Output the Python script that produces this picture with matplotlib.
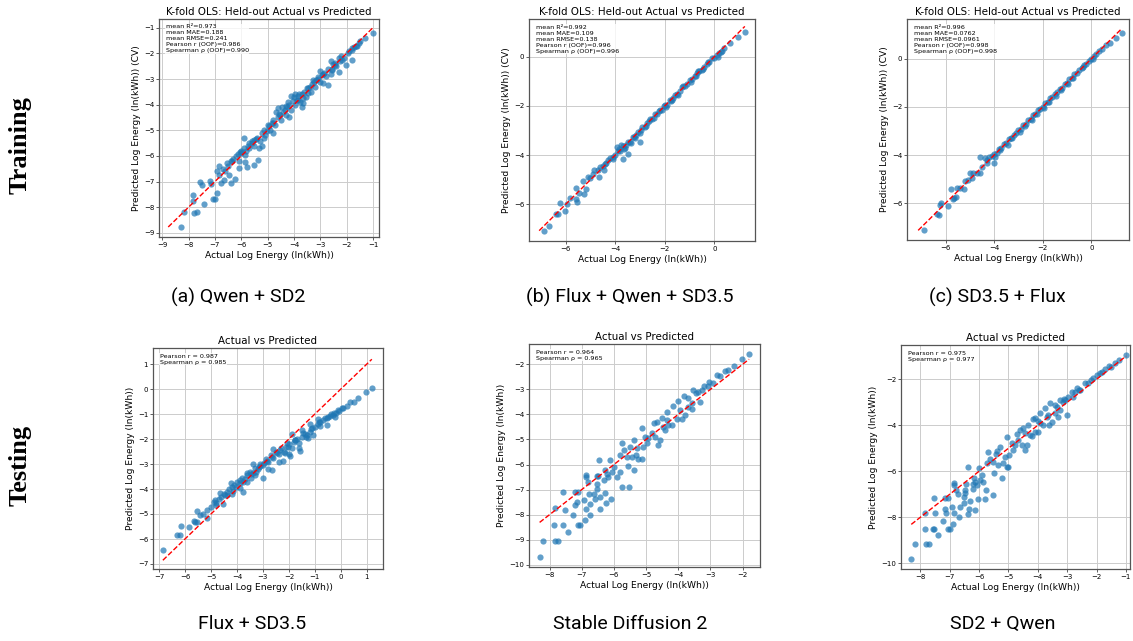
import numpy as np
import matplotlib
matplotlib.use("Agg")
import matplotlib.pyplot as plt

# ---- data (actual, predicted) ----
# (a) Qwen + SD2, training (k-fold held-out)
a_act = [-8.30, -8.19, -7.83, -7.83, -7.78, -7.69, -7.43, -7.55, -7.50, -7.19, -7.14, -7.08, -7.00,
         -6.86, -6.84, -6.90, -6.78, -6.66, -6.53, -6.46, -6.40, -6.22, -6.08, -6.14, -6.02, -5.86,
         -5.79, -5.84, -5.70, -5.50, -5.53, -5.38, -5.34, -5.12, -5.02, -4.93, -4.80, -4.67, -4.61,
         -4.51, -4.35, -4.22, -4.12, -3.97, -3.84, -3.65, -3.52, -3.46, -3.26, -3.07, -2.94, -2.88,
         -2.69, -2.56, -2.30, -2.43, -2.18, -2.02, -1.79, -1.79, -1.53, -1.30, -1.00,
         -6.9, -6.7, -6.6, -6.5, -6.4, -6.3, -6.2, -6.1, -6.0, -5.9, -5.8, -5.7, -5.6, -5.5, -5.4,
         -5.3, -5.2, -5.1, -5.0, -4.9, -4.8, -4.7, -4.6, -4.5, -4.4, -4.3, -4.2, -4.1, -4.0, -3.95,
         -3.9, -3.8, -3.75, -3.7, -3.6, -3.55, -3.4, -3.35, -3.3, -3.2, -3.1, -3.0, -2.9, -2.8, -2.7,
         -2.6, -2.5, -2.4, -2.3, -2.2, -2.1, -1.9, -1.8, -1.7, -1.6, -1.5, -5.9, -5.6, -4.45, -4.3,
         -3.0, -2.6, -3.7, -4.2, -4.8, -5.2,
         -6.35, -6.05, -5.75, -5.45, -5.15, -4.85, -4.55, -4.25, -3.85, -3.65, -3.45, -3.15, -2.85,
         -2.55, -2.25, -1.95, -1.65, -4.05, -3.25, -2.45]
a_pred = [-8.77, -8.19, -7.54, -7.74, -8.22, -8.17, -7.86, -7.02, -7.15, -6.99, -7.10, -7.67, -7.68,
          -6.41, -6.73, -7.45, -7.06, -6.93, -6.28, -6.76, -7.06, -6.89, -6.47, -5.93, -5.82, -5.95,
          -6.45, -6.24, -5.50, -5.37, -6.34, -6.15, -5.70, -5.31, -5.02, -4.85, -4.59, -4.27, -4.14,
          -4.40, -4.20, -3.88, -3.68, -3.59, -3.81, -3.94, -3.36, -3.56, -3.04, -2.91, -2.84, -3.14,
          -3.23, -2.65, -2.71, -2.39, -2.26, -2.45, -2.26, -1.87, -1.61, -1.42, -1.22,
          -6.6, -6.5, -6.6, -6.4, -6.2, -6.1, -6.0, -6.2, -5.9, -5.7, -5.8, -5.7, -5.5, -5.6, -5.3,
          -5.4, -5.1, -5.2, -4.8, -5.0, -4.7, -4.8, -4.5, -4.6, -4.3, -4.4, -4.0, -4.2, -3.7, -4.0,
          -3.8, -3.6, -3.9, -3.6, -3.5, -3.7, -3.3, -3.5, -3.2, -3.3, -3.0, -3.1, -2.8, -2.9, -2.6,
          -2.8, -2.4, -2.5, -2.2, -2.1, -2.2, -1.9, -1.8, -1.75, -1.7, -1.5, -5.3, -5.4, -4.1, -4.05,
          -2.7, -2.3, -4.1, -4.5, -5.1, -5.6,
          -6.2, -5.85, -5.6, -5.35, -5.0, -4.7, -4.35, -4.1, -3.65, -3.75, -3.35, -3.05, -2.75,
          -2.6, -2.3, -2.0, -1.7, -3.85, -3.1, -2.45]

# (b) Flux + Qwen + SD3.5, training
b_act = [-6.89, -6.68, -6.39, -6.23, -6.31, -6.01, -5.93, -5.82, -5.58, -5.55, -5.47, -5.58, -5.28,
         -5.20, -5.01, -4.84, -4.64, -4.47, -4.37, -4.10, -3.69, -3.49, -3.94, -3.02,
         -4.0, -3.9, -3.8, -3.7, -3.6, -3.5, -3.4, -3.3, -3.2, -3.1, -3.0, -2.9, -2.8, -2.7, -2.6,
         -2.5, -2.4, -2.3, -2.2, -2.1, -2.0, -1.9, -1.8, -1.7, -1.6, -1.5, -1.4, -1.3, -1.2, -1.1,
         -1.0, -0.9, -0.8, -0.7, -0.6, -0.5, -0.4, -0.3, -0.2, -0.1, 0.0, 0.1, 0.2, 0.3, 0.4,
         -4.3, -4.5, -4.7, -4.2, -3.75, -3.35, -2.95, -2.45, -1.95, -1.45, -0.95, -0.45, 0.15,
         -3.15, -2.05, 0.62, 0.96, 1.23,
         -4.6, -4.4, -4.1, -3.85, -3.55, -3.25, -2.75, -2.25, -1.75, -1.25, -0.75, -0.25, 0.25,
         -5.1, -4.9, -5.3, -3.65, -2.65, -1.65, -0.65]
b_pred = [-7.07, -6.89, -6.38, -5.94, -6.39, -6.27, -6.00, -5.73, -5.77, -5.92, -5.56, -5.32, -5.59,
          -5.36, -4.93, -4.61, -4.88, -4.61, -4.34, -4.07, -4.14, -3.96, -3.69, -3.46,
          -4.0, -3.85, -3.85, -3.65, -3.7, -3.45, -3.45, -3.25, -3.3, -3.05, -3.1, -2.85, -2.85, -2.7,
          -2.55, -2.55, -2.35, -2.35, -2.15, -2.15, -1.95, -1.95, -1.75, -1.75, -1.55, -1.5, -1.4,
          -1.25, -1.2, -1.1, -0.95, -0.9, -0.8, -0.65, -0.6, -0.55, -0.4, -0.3, -0.2, -0.05, -0.05,
          0.05, 0.15, 0.25, 0.35, -4.2, -4.45, -4.6, -4.1, -3.6, -3.5, -3.0, -2.5, -2.05, -1.55,
          -1.05, -0.5, 0.0, -3.2, -2.0, 0.54, 0.79, 0.99,
          -4.5, -4.35, -4.15, -3.75, -3.6, -3.25, -2.8, -2.2, -1.8, -1.2, -0.8, -0.2, 0.2,
          -4.9, -4.75, -5.05, -3.75, -2.6, -1.7, -0.6]

# (c) SD3.5 + Flux, training
c_act = [-6.87, -6.23, -6.28, -6.34, -6.19, -5.89, -5.68, -5.57, -5.54, -5.78, -5.24, -5.06, -4.99,
         -4.86, -4.58, -4.58, -4.37, -4.30, -3.99,
         -4.1, -4.0, -3.9, -3.8, -3.7, -3.6, -3.5, -3.4, -3.3, -3.2, -3.1, -3.0, -2.9, -2.8, -2.7,
         -2.6, -2.5, -2.4, -2.3, -2.2, -2.1, -2.0, -1.9, -1.8, -1.7, -1.6, -1.5, -1.4, -1.3, -1.2,
         -1.1, -1.0, -0.9, -0.8, -0.7, -0.6, -0.5, -0.4, -0.3, -0.2, -0.1, 0.0, 0.1, 0.2, 0.3,
         0.45, 0.6, 0.75, 1.0, 1.25, -4.3, -4.5, -3.95, -3.45, -2.95, -2.45, -1.95, -1.45, -0.95,
         -4.2, -3.75, -3.25, -2.75, -2.25, -1.75, -1.25, -0.75, -0.35, 0.05, -4.7, -4.9, -5.2,
         -5.4, -5.65]
c_pred = [-7.13, -6.08, -6.50, -6.43, -5.98, -6.11, -5.82, -5.73, -5.39, -5.40, -5.43, -5.04, -4.76,
          -4.74, -4.76, -4.07, -4.13, -4.35, -4.35,
          -4.05, -3.95, -3.9, -3.75, -3.7, -3.55, -3.5, -3.35, -3.3, -3.15, -3.1, -2.95, -2.9, -2.75,
          -2.7, -2.55, -2.5, -2.35, -2.3, -2.15, -2.1, -2.0, -1.85, -1.8, -1.65, -1.6, -1.45, -1.4,
          -1.25, -1.2, -1.05, -1.0, -0.85, -0.8, -0.65, -0.6, -0.45, -0.4, -0.25, -0.2, -0.1, 0.0,
          0.1, 0.2, 0.3, 0.4, 0.55, 0.65, 0.88, 1.08, -4.2, -4.5, -4.1, -3.6, -3.05, -2.55, -2.05,
          -1.55, -1.05,
          -4.1, -3.8, -3.3, -2.8, -2.3, -1.8, -1.3, -0.8, -0.35, 0.0, -4.75, -4.95, -5.1,
          -5.35, -5.8]

# Flux + SD3.5, testing
d_act = [-6.85, -6.16, -6.29, -6.20, -5.84, -5.66, -5.53, -5.43, -5.15, -5.17, -5.53, -4.85, -4.79,
         -4.53, -4.40, -4.66, -4.14, -4.21, -3.89, -3.78, -3.63, -3.44, -3.12, -2.99, -2.86, -2.67,
         -2.47, -2.22, -2.09, -1.96, -1.77, -1.57, -1.51, -1.25, -1.06, -0.88, -0.80, -0.54, -0.41,
         -0.22, -0.09, 0.04, 0.23, 0.36, 0.49, 0.64, 0.97, 1.19,
         -5.0, -4.9, -4.8, -4.7, -4.6, -4.5, -4.4, -4.3, -4.2, -4.1, -4.0, -3.9, -3.8, -3.7, -3.6,
         -3.5, -3.4, -3.3, -3.2, -3.1, -3.0, -2.9, -2.8, -2.7, -2.6, -2.5, -2.4, -2.3, -2.2, -2.1,
         -2.0, -1.9, -1.8, -1.7, -1.6, -1.5, -1.4, -1.3, -1.2, -1.1, -1.0, -0.9, -0.8, -0.7, -0.6,
         -0.5, -0.4, -0.3, -0.2, -0.1, 0.1, -4.2, -3.9, -3.6, -3.3, -2.8, -2.4, -2.0, -1.6, -3.4,
         -2.6, -1.9, -1.2,
         -4.45, -4.05, -3.75, -3.45, -3.15, -2.95, -2.65, -2.35, -2.05, -1.75, -1.45, -1.15, -0.85,
         -0.55, -0.25, -5.3, -5.6, -3.25, -2.15, -1.35]
d_pred = [-6.43, -5.47, -5.85, -5.85, -5.53, -5.29, -5.32, -5.03, -5.16, -4.83, -4.89, -4.43, -4.63,
          -4.59, -4.23, -4.16, -4.09, -3.76, -3.63, -4.12, -3.36, -3.56, -3.09, -3.56, -2.89, -3.23,
          -2.56, -2.89, -2.16, -2.67, -2.03, -2.49, -1.63, -1.96, -1.83, -1.20, -1.49, -1.43, -1.09,
          -1.12, -0.89, -0.76, -0.67, -0.53, -0.53, -0.36, -0.13, 0.03,
          -4.7, -4.5, -4.55, -4.4, -4.3, -4.2, -4.1, -4.0, -3.9, -3.85, -3.7, -3.75, -3.55, -3.6,
          -3.45, -3.3, -3.35, -3.15, -3.2, -3.0, -3.05, -2.8, -2.9, -2.65, -2.75, -2.5, -2.6, -2.35,
          -2.5, -2.3, -2.2, -2.35, -2.1, -2.0, -2.15, -1.9, -1.8, -1.85, -1.7, -1.55, -1.5, -1.4,
          -1.3, -1.25, -1.15, -1.1, -1.0, -1.05, -0.95, -0.85, -0.75, -4.2, -3.95, -3.7, -3.45,
          -3.2, -2.9, -2.6, -2.35, -3.0, -2.4, -1.8, -1.4,
          -4.25, -3.9, -3.7, -3.4, -3.1, -2.95, -2.7, -2.45, -2.3, -2.05, -1.75, -1.6, -1.3,
          -1.15, -0.95, -5.0, -5.3, -3.3, -2.55, -1.9]

# Stable Diffusion 2, testing
e_act = [-8.31, -8.19, -7.82, -7.74, -7.86, -7.59, -7.43, -7.82, -7.51, -7.57, -7.26, -7.22, -7.15,
         -7.12, -7.05, -7.20, -7.12, -6.88, -6.88, -6.92, -6.89, -6.86, -6.82, -6.79, -6.74, -6.74,
         -6.63, -6.53, -6.53, -6.58, -6.53, -6.48, -6.46, -6.43, -6.43, -6.30, -6.27, -6.27, -6.24,
         -6.22, -6.17, -6.12, -6.07, -6.10, -6.01, -5.91, -5.81, -5.75, -5.81, -5.76, -5.70, -5.60,
         -5.55, -5.53, -5.50, -5.45, -5.39, -5.37, -5.31, -5.29, -5.24, -5.14, -5.10, -5.14, -5.03,
         -4.98, -4.93, -4.83, -4.77, -4.72, -4.67, -4.62, -4.57, -4.51, -4.48, -4.41, -4.36, -4.31,
         -4.20, -4.15, -4.05, -4.00, -3.95, -3.89, -3.79, -3.82, -3.69, -3.58, -3.69, -3.53, -3.45,
         -3.38, -3.33, -3.27, -3.20, -3.07, -3.04, -2.91, -2.79, -2.71, -2.55, -2.45, -2.27, -2.03,
         -1.80, -3.58, -4.36]
e_pred = [-9.69, -9.05, -9.05, -9.05, -8.43, -8.40, -8.68, -7.73, -7.80, -7.09, -8.03, -7.63, -7.49,
          -8.43, -8.43, -7.09, -7.09, -6.43, -6.49, -7.40, -8.20, -7.76, -6.69, -7.16, -7.56, -8.03,
          -7.16, -6.96, -6.76, -7.36, -6.45, -6.45, -5.83, -7.77, -7.29, -6.63, -7.13, -6.20, -7.52,
          -6.36, -6.49, -5.80, -6.29, -7.36, -6.09, -6.49, -6.29, -6.89, -5.63, -5.16, -5.43, -5.69,
          -6.07, -6.89, -5.29, -5.69, -5.03, -6.23, -5.63, -5.36, -5.76, -5.76, -5.29, -4.53, -4.89,
          -5.16, -4.96, -4.76, -4.36, -4.89, -4.29, -5.23, -5.03, -4.16, -4.52, -4.63, -3.89, -4.43,
          -4.43, -3.67, -4.20, -3.47, -3.83, -4.20, -4.03, -3.25, -3.36, -3.80, -3.69, -3.03, -3.16,
          -3.09, -3.49, -3.03, -2.87, -2.87, -2.69, -2.76, -2.43, -2.47, -2.25, -2.23, -2.07, -1.80,
          -1.60, -3.56, -4.23]

# SD2 + Qwen, testing
f_act = [-8.31, -8.17, -7.80, -7.72, -7.83, -7.57, -7.40, -7.52, -7.83, -7.52, -7.49, -7.23, -7.17,
         -7.12, -7.07, -7.00, -7.17, -7.07, -6.87, -6.87, -6.91, -6.89, -6.84, -6.79, -6.73, -6.64,
         -6.70, -6.53, -6.47, -6.47, -6.53, -6.44, -6.39, -6.36, -6.39, -6.30, -6.21, -6.19, -6.13,
         -6.21, -6.13, -6.07, -6.02, -5.96, -6.05, -5.90, -5.85, -5.76, -5.79, -5.74, -5.68, -5.62,
         -5.51, -5.49, -5.51, -5.42, -5.34, -5.28, -5.23, -5.17, -5.11, -5.06, -5.00, -4.98, -5.06,
         -4.89, -4.83, -4.77, -4.66, -4.60, -4.55, -4.49, -4.43, -4.38, -4.32, -4.26, -4.21, -4.15,
         -4.09, -3.98, -3.92, -3.83, -3.75, -3.70, -3.61, -3.53, -3.58, -3.41, -3.30, -3.41, -3.24,
         -3.15, -3.07, -3.02, -2.96, -2.85, -2.73, -2.68, -2.56, -2.39, -2.28, -2.11, -1.98, -1.88,
         -1.71, -1.57, -1.38, -1.23, -1.00, -3.24, -3.92, -2.79,
         -4.7, -4.45, -4.0, -3.65, -3.1, -2.6, -2.2, -1.8, -1.5, -5.4, -4.1, -3.35]
f_pred = [-9.81, -9.17, -9.17, -9.17, -8.50, -8.52, -8.78, -8.53, -7.83, -7.18, -7.83, -8.15, -7.66,
          -7.83, -8.52, -8.52, -7.18, -7.18, -6.53, -6.60, -7.54, -8.30, -7.83, -6.82, -7.01, -7.54,
          -7.98, -7.11, -6.93, -6.82, -7.37, -6.56, -5.83, -7.62, -7.86, -7.28, -6.75, -6.31, -7.69,
          -6.57, -6.46, -6.60, -5.88, -6.38, -7.22, -6.17, -6.46, -6.82, -7.22, -5.66, -5.15, -5.48,
          -5.58, -6.09, -7.04, -5.26, -5.73, -4.93, -6.31, -5.66, -5.37, -5.80, -5.80, -5.29, -4.50,
          -4.79, -5.08, -4.86, -4.64, -4.21, -4.86, -4.13, -5.08, -4.86, -3.99, -4.42, -4.47, -3.74,
          -4.28, -4.28, -3.48, -3.99, -3.26, -3.63, -3.99, -3.84, -3.05, -3.12, -3.63, -3.48, -2.90,
          -2.97, -2.90, -3.55, -2.75, -2.54, -2.54, -2.39, -2.46, -2.17, -2.17, -1.96, -1.81, -1.74,
          -1.56, -1.42, -1.30, -1.16, -0.96, -3.34, -3.92, -2.75,
          -4.4, -4.35, -3.8, -3.55, -2.85, -2.45, -2.05, -1.7, -1.45, -5.1, -3.7, -3.2]

top_title = "K-fold OLS: Held-out Actual vs Predicted"
bot_title = "Actual vs Predicted"
top_notes = [
    "mean R²=0.973\nmean MAE=0.188\nmean RMSE=0.241\nPearson r (OOF)=0.986\nSpearman ρ (OOF)=0.990",
    "mean R²=0.992\nmean MAE=0.109\nmean RMSE=0.138\nPearson r (OOF)=0.996\nSpearman ρ (OOF)=0.996",
    "mean R²=0.996\nmean MAE=0.0762\nmean RMSE=0.0961\nPearson r (OOF)=0.998\nSpearman ρ (OOF)=0.998",
]
bot_notes = [
    "Pearson r = 0.987\nSpearman ρ = 0.985",
    "Pearson r = 0.964\nSpearman ρ = 0.965",
    "Pearson r = 0.975\nSpearman ρ = 0.977",
]
captions_top = ["(a) Qwen + SD2", "(b) Flux + Qwen + SD3.5", "(c) SD3.5 + Flux"]
captions_bot = ["Flux + SD3.5", "Stable Diffusion 2", "SD2 + Qwen"]

W, H = 1133, 641
fig = plt.figure(figsize=(W / 100, H / 100), dpi=100)


def box(x0, y0, x1, y1):
    # pixel box -> figure fraction
    return [x0 / W, 1 - y1 / H, (x1 - x0) / W, (y1 - y0) / H]


def panel(rect, act, pred, title, note, ylabel, xlim, ylim, xticks, yticks):
    ax = fig.add_axes(rect)
    act = np.array(act)
    pred = np.array(pred)
    ax.scatter(act, pred, s=20, color="#1f77b4", alpha=0.7, linewidths=0, zorder=3)
    lo, hi = min(act.min(), pred.min()), max(act.max(), pred.max())
    if ylabel.endswith("(CV)"):
        ax.plot([lo, hi], [lo, hi], "r--", lw=1.0, zorder=4)
    else:
        ax.plot([act.min(), act.max()], [act.min(), act.max()], "r--", lw=1.0, zorder=4)
    ax.set_xlim(xlim)
    ax.set_ylim(ylim)
    ax.set_xticks(xticks)
    ax.set_yticks(yticks)
    ax.grid(True, color="#cccccc", lw=0.7, zorder=0)
    ax.set_axisbelow(True)
    ax.tick_params(labelsize=5, length=2, width=0.6, pad=1.5, color="#444444")
    for s in ax.spines.values():
        s.set_color("#555555")
        s.set_linewidth(0.9)
    ax.set_title(title, fontsize=7.4, pad=3)
    ax.set_xlabel("Actual Log Energy (ln(kWh))", fontsize=6.6, labelpad=2)
    ax.set_ylabel(ylabel, fontsize=6.6, labelpad=2)
    ax.text(0.03, 0.975, note, transform=ax.transAxes, va="top", ha="left",
            fontsize=4.6, linespacing=1.25, zorder=5,
            bbox=dict(facecolor="white", edgecolor="none", alpha=0.8, pad=0.5))
    return ax


ytop = "Predicted Log Energy (ln(kWh)) (CV)"
ybot = "Predicted Log Energy (ln(kWh))"

panel(box(159, 19, 379, 237), a_act, a_pred, top_title, top_notes[0], ytop,
      (-9.12, -0.77), (-9.16, -0.66), range(-9, 0), range(-9, 0))
panel(box(529, 19, 755, 241), b_act, b_pred, top_title, top_notes[1], ytop,
      (-7.48, 1.64), (-7.49, 1.53), [-6, -4, -2, 0], [-6, -4, -2, 0])
panel(box(907, 19, 1129, 240), c_act, c_pred, top_title, top_notes[2], ytop,
      (-7.59, 1.55), (-7.53, 1.65), [-6, -4, -2, 0], [-6, -4, -2, 0])
panel(box(153, 348, 383, 569), d_act, d_pred, bot_title, bot_notes[0], ybot,
      (-7.23, 1.62), (-7.2, 1.64), range(-7, 2), range(-7, 2))
panel(box(529, 344, 760, 567), e_act, e_pred, bot_title, bot_notes[1], ybot,
      (-8.64, -1.46), (-10.09, -1.19), range(-8, -1), range(-10, -1))
panel(box(901, 345, 1130, 569), f_act, f_pred, bot_title, bot_notes[2], ybot,
      (-8.66, -0.86), (-10.25, -0.51), range(-8, 0), [-10, -8, -6, -4, -2])

# row labels and sub-captions
fig.text(20 / W, 1 - 145 / H, "Training", rotation=90, ha="center", va="center",
         fontsize=19, fontweight="bold", family="Liberation Serif")
fig.text(20 / W, 1 - 465 / H, "Testing", rotation=90, ha="center", va="center",
         fontsize=19, fontweight="bold", family="Liberation Serif")
for cx, t in zip([238, 630, 997], captions_top):
    fig.text(cx / W, 1 - 297 / H, t, ha="center", va="center", fontsize=14,
             family=["Roboto", "DejaVu Sans"])
for cx, t in zip([252, 630, 1003], captions_bot):
    fig.text(cx / W, 1 - 624 / H, t, ha="center", va="center", fontsize=14,
             family=["Roboto", "DejaVu Sans"])

fig.savefig("out.png", dpi=100)
